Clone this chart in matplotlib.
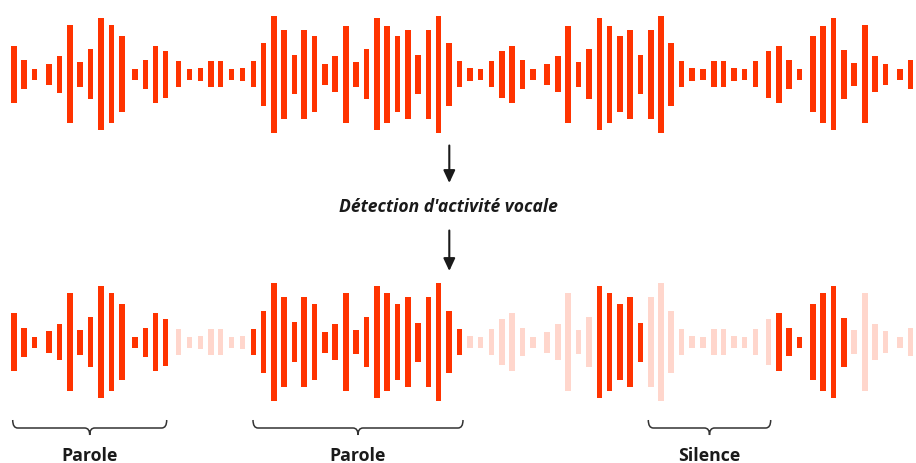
import matplotlib
matplotlib.use("Agg")
import matplotlib.pyplot as plt
from matplotlib.path import Path
from matplotlib.patches import PathPatch
import numpy as np

# ---- data ----
bar_x = [13.7, 24, 34.3, 49, 59.3, 69.7, 80, 90.3, 100.7, 111.3, 121.7, 135, 145.3, 155.3, 165.7,
         178.7, 189.7, 200.3, 211, 220.3, 231.7, 242.7, 253.3, 263.3, 273.7, 284, 294.3,
         304, 314.3, 325, 335, 345.7, 356, 366.3, 376.7, 387, 397.3, 407.7, 418, 428.3, 438.3,
         448.7, 459.3, 469.7, 480.3, 491.3, 501.7, 512, 522.3, 532.7, 547, 557.7, 568, 578.3,
         588.7, 599.3, 609.3, 619.7, 630, 640.3, 650.7, 661, 671, 681.3, 692, 702.7, 713.7,
         723.3, 733.7, 744.3, 755.3, 768.3, 778.7, 789, 799.3, 812.7, 823, 833.3, 843.7, 854,
         864.7, 875, 885.3, 900, 910.3]
amplitude = [28.7, 14.5, 5.5, 10.7, 18.3, 49, 12.5, 25, 56, 49, 38, 5.5, 14.5, 28.7, 23.5,
             13, 5.5, 6.5, 13, 13, 5.5, 6.5, 13, 31.3, 58.7, 44.7, 19.7,
             44.7, 38, 10.5, 18, 48.7, 12.2, 25, 56, 48.7, 38, 44.7, 19.5, 44.7, 58.7,
             31.3, 13, 6.2, 5.5, 13, 23.3, 28.7, 14.2, 5.5, 10.5, 18, 48.7, 12.2,
             25, 56, 48.7, 38, 44.7, 19.5, 44.7, 58.7, 31.3, 13, 6.2, 5.5, 13,
             13, 6.2, 5.5, 13, 23.3, 28.7, 14.2, 5.5, 38, 48.7, 56, 24.5, 11.8,
             49, 18, 10.7, 5.5, 14.2]
# 1 = voice activity detected (kept), 0 = filtered out
is_speech = [1]*15 + [0]*7 + [1]*21 + [0]*12 + [1]*5 + [0]*12 + [1]*7 + [0]*6

brace_spans = [(12.7, 166.7), (253, 463), (648.3, 770.7)]
brace_labels = ["Parole", "Parole", "Silence"]
step_label = "Détection d'activité vocale"

RED = "#FF3300"
FADED = "#FFD6CC"

fig = plt.figure(figsize=(9.16, 4.64), dpi=100)
ax = fig.add_axes([0, 0, 1, 1])
ax.set_xlim(0, 916)
ax.set_ylim(464, 0)
ax.axis("off")

x = np.array(bar_x)
a = np.array(amplitude)
m = np.array(is_speech, dtype=bool)

top_c = 75.3
bot_c = 343.0
W = 5.6

ax.bar(x, 2 * a, bottom=top_c - a, width=W, color=RED, linewidth=0)
ax.bar(x[m], 2 * a[m], bottom=bot_c - a[m], width=W, color=RED, linewidth=0)
ax.bar(x[~m], 2 * a[~m], bottom=bot_c - a[~m], width=W, color=FADED, linewidth=0)

# arrows
for y0, y1 in [(146.5, 184), (231.5, 272)]:
    ax.annotate("", xy=(449.3, y1), xytext=(449.3, y0),
                arrowprops=dict(arrowstyle="-|>,head_length=0.75,head_width=0.35",
                                color="#1a1a1a", lw=1.5, shrinkA=0, shrinkB=0))

ax.text(448.5, 207, step_label, ha="center", va="center", fontsize=12.6,
        family="Open Sans", fontweight="bold", fontstyle="italic", color="#1a1a1a")

# braces
def brace(x0, x1, ytop=421, ymid=429, ytip=436):
    xc = (x0 + x1) / 2
    r = 5
    verts = [(x0, ytop), (x0, ymid), (x0 + r, ymid),
             (xc - r, ymid), (xc, ymid), (xc, ytip),
             (xc, ymid), (xc + r, ymid),
             (x1 - r, ymid), (x1, ymid), (x1, ytop)]
    codes = [Path.MOVETO, Path.CURVE3, Path.CURVE3,
             Path.LINETO, Path.CURVE3, Path.CURVE3,
             Path.CURVE3, Path.CURVE3,
             Path.LINETO, Path.CURVE3, Path.CURVE3]
    ax.add_patch(PathPatch(Path(verts, codes), fill=False, edgecolor="#333333", lw=1.1))

for (x0, x1), lab in zip(brace_spans, brace_labels):
    brace(x0, x1)
    ax.text((x0 + x1) / 2, 456, lab, ha="center", va="center", fontsize=12.8,
            family="Open Sans", fontweight="bold", color="#1a1a1a")

fig.savefig("out.png", dpi=100)
